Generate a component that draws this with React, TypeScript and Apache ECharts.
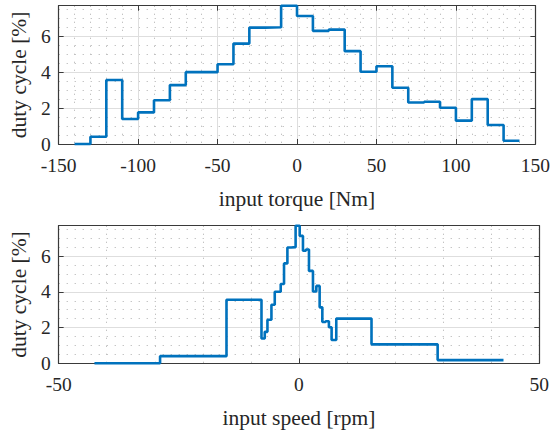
import React, { useEffect, useRef } from "react";
import * as echarts from "echarts";

// Duty cycle per bin [%]
const dutyCycle = [
  0, 0.4, 3.56, 1.39, 1.76, 2.44, 3.28, 4.0, 4.0, 4.44, 5.59, 6.48, 6.5, 7.7,
  7.13, 6.3, 6.37, 5.17, 4.02, 4.33, 3.13, 2.31, 2.35, 2.02, 1.3, 2.5, 1.06, 0.18,
];

// Bin edges of the input torque [Nm]
const torqueEdges = [
  -140, -130, -120, -110, -100, -90, -80, -70, -60, -50, -40, -30, -20, -10, 0,
  10, 20, 30, 40, 50, 60, 70, 80, 90, 100, 110, 120, 130, 140,
];

// Bin edges of the input speed [rpm]
const speedEdges = [
  -42.55, -28.9, -15.08, -7.8, -7.12, -6.56, -5.73, -5.04, -4.42, -3.8, -3.11,
  -2.41, -1.62, -0.7, 0.15, 0.83, 1.45, 2.08, 2.91, 3.61, 4.3, 4.86, 5.54, 6.23,
  6.79, 7.76, 15.09, 28.85, 42.55,
];

const torqueTicks = { min: -150, max: 150, interval: 50 };
const speedTicks = { min: -50, max: 50, interval: 50 };
const yTicks = { min: 0, interval: 2 };

const FONT = "Liberation Serif";
const TXT = "#262626";
const AX = "#3a3a3a";
const BLUE = "#0072BD";

function stairs(edges: number[], values: number[]) {
  const pts: number[][] = values.map((v, i) => [edges[i], v]);
  pts.push([edges[edges.length - 1], values[values.length - 1]]);
  return pts;
}

export default function App() {
  const ref = useRef<HTMLDivElement>(null);
  useEffect(() => {
    if (!ref.current) return;
    const chart = echarts.init(ref.current, undefined, { renderer: "svg" });
    const yMax = Math.max(...dutyCycle);

    const majorSplit = { show: true, lineStyle: { color: "#dedede", width: 1 } };
    const minorSplit = {
      show: true,
      lineStyle: { color: "#bcbcbc", width: 1, type: [1.2, 6.8] as any },
    };
    const tick = { show: true, inside: true, length: 5, lineStyle: { color: AX } };
    const line = { show: true, onZero: false, lineStyle: { color: AX, width: 1.2 } };
    const tickLabel = {
      fontFamily: FONT,
      fontSize: 19.5,
      color: TXT,
    };

    const xMain = (gi: number, t: any, name: string) => ({
      type: "value",
      gridIndex: gi,
      position: "bottom",
      min: t.min,
      max: t.max,
      interval: t.interval,
      name,
      nameLocation: "middle",
      nameGap: 43.5,
      nameTextStyle: { fontFamily: FONT, fontSize: 21.5, color: TXT },
      axisLine: line,
      axisTick: tick,
      axisLabel: { ...tickLabel, margin: 11 },
      splitLine: majorSplit,
      minorTick: { show: false, splitNumber: 5 },
      minorSplitLine: minorSplit,
    });
    const xMirror = (gi: number, t: any) => ({
      type: "value",
      gridIndex: gi,
      position: "top",
      min: t.min,
      max: t.max,
      interval: t.interval,
      axisLine: line,
      axisTick: tick,
      axisLabel: { show: false },
      splitLine: { show: false },
    });
    const yMain = (gi: number) => ({
      type: "value",
      gridIndex: gi,
      position: "left",
      min: yTicks.min,
      max: yMax,
      interval: yTicks.interval,
      name: "duty cycle [%]",
      nameLocation: "middle",
      nameGap: 23,
      nameTextStyle: { fontFamily: FONT, fontSize: 21.5, color: TXT },
      axisLine: line,
      axisTick: tick,
      axisLabel: { ...tickLabel, margin: 8, showMaxLabel: false },
      splitLine: majorSplit,
      minorTick: { show: false, splitNumber: 4 },
      minorSplitLine: minorSplit,
    });
    const yMirror = (gi: number) => ({
      type: "value",
      gridIndex: gi,
      position: "right",
      min: yTicks.min,
      max: yMax,
      interval: yTicks.interval,
      axisLine: line,
      axisTick: tick,
      axisLabel: { show: false },
      splitLine: { show: false },
    });

    chart.setOption({
      animation: false,
      backgroundColor: "#ffffff",
      textStyle: { fontFamily: FONT, color: TXT },
      grid: [
        { left: 57.5, top: 5.7, width: 481.8, height: 138.3 },
        { left: 57.5, top: 225.7, width: 481.8, height: 137.6 },
      ],
      xAxis: [
        xMain(0, torqueTicks, "input torque [Nm]"),
        xMirror(0, torqueTicks),
        xMain(1, speedTicks, "input speed [rpm]"),
        xMirror(1, speedTicks),
      ],
      yAxis: [yMain(0), yMirror(0), yMain(1), yMirror(1)],
      series: [
        {
          type: "line",
          xAxisIndex: 0,
          yAxisIndex: 0,
          step: "end",
          symbol: "none",
          clip: false,
          lineStyle: { color: BLUE, width: 2.6 },
          data: stairs(torqueEdges, dutyCycle),
        },
        {
          type: "line",
          xAxisIndex: 2,
          yAxisIndex: 2,
          step: "end",
          symbol: "none",
          clip: false,
          lineStyle: { color: BLUE, width: 2.6 },
          data: stairs(speedEdges, dutyCycle),
        },
      ],
    });
    return () => chart.dispose();
  }, []);
  return (
    <div
      ref={ref}
      style={{ position: "absolute", left: 0, top: 0, width: 553, height: 430 }}
    />
  );
}
